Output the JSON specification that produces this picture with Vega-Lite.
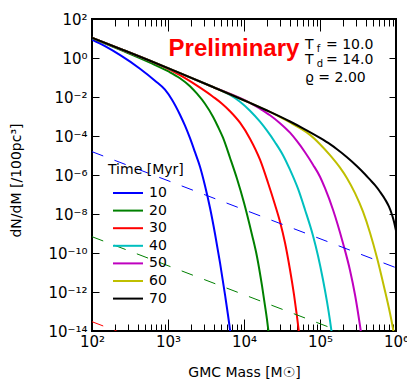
{
  "$schema": "https://vega.github.io/schema/vega-lite/v6.json",
  "width": 304,
  "height": 312,
  "autosize": {"type": "none"},
  "padding": {"left": 92, "top": 19, "right": 11, "bottom": 49},
  "background": "white",
  "config": {
    "view": {"stroke": "black", "strokeWidth": 2},
    "font": "DejaVu Sans",
    "axis": {
      "grid": false, "domain": false, "tickColor": "black", "tickWidth": 1,
      "labelColor": "black", "titleColor": "black", "labelFont": "DejaVu Sans", "titleFont": "DejaVu Sans",
      "labelFontSize": 15, "titleFontSize": 14, "titleFontWeight": "normal",
      "labelFlush": false, "labelOverlap": false
    }
  },
  "datasets": {
    "curves": [
      {"Time": 10, "M": 100, "Y": 8.68}, {"Time": 10, "M": 148.3, "Y": 4.03}, {"Time": 10, "M": 240.8, "Y": 1.312}, {"Time": 10, "M": 428.1, "Y": 0.2827}, {"Time": 10, "M": 674.5, "Y": 0.0685}, {"Time": 10, "M": 912.9, "Y": 0.02368}, {"Time": 10, "M": 1129, "Y": 7.27e-3}, {"Time": 10, "M": 1438, "Y": 1.237e-3}, {"Time": 10, "M": 1674, "Y": 3.38e-4}, {"Time": 10, "M": 1948, "Y": 7.71e-5}, {"Time": 10, "M": 2266, "Y": 1.476e-5}, {"Time": 10, "M": 2637, "Y": 2.67e-6}, {"Time": 10, "M": 3068, "Y": 2.83e-7}, {"Time": 10, "M": 3569, "Y": 2.10e-8}, {"Time": 10, "M": 4153, "Y": 9.77e-10}, {"Time": 10, "M": 4832, "Y": 3.18e-11}, {"Time": 10, "M": 5623, "Y": 7.27e-13}, {"Time": 10, "M": 6544, "Y": 1.17e-14}, {"Time": 10, "M": 6953, "Y": 1.76e-15},
      {"Time": 20, "M": 100, "Y": 10.36}, {"Time": 20, "M": 240.8, "Y": 2.512}, {"Time": 20, "M": 579.7, "Y": 0.574}, {"Time": 20, "M": 1000, "Y": 0.2104}, {"Time": 20, "M": 1438, "Y": 0.0921}, {"Time": 20, "M": 1948, "Y": 0.0358}, {"Time": 20, "M": 2408, "Y": 0.01476}, {"Time": 20, "M": 3068, "Y": 4.53e-3}, {"Time": 20, "M": 3909, "Y": 9.77e-4}, {"Time": 20, "M": 4549, "Y": 3.00e-4}, {"Time": 20, "M": 5292, "Y": 8.18e-5}, {"Time": 20, "M": 6544, "Y": 7.71e-6}, {"Time": 20, "M": 8091, "Y": 6.46e-7}, {"Time": 20, "M": 10000, "Y": 3.80e-8}, {"Time": 20, "M": 12740, "Y": 8.68e-10}, {"Time": 20, "M": 14830, "Y": 6.46e-11}, {"Time": 20, "M": 17250, "Y": 2.10e-12}, {"Time": 20, "M": 18890, "Y": 1.98e-13}, {"Time": 20, "M": 20080, "Y": 3.80e-14}, {"Time": 20, "M": 21330, "Y": 5.74e-15}, {"Time": 20, "M": 22660, "Y": 7.71e-16},
      {"Time": 30, "M": 100, "Y": 10.99}, {"Time": 30, "M": 240.8, "Y": 2.826}, {"Time": 30, "M": 579.7, "Y": 0.7185}, {"Time": 30, "M": 912.9, "Y": 0.3296}, {"Time": 30, "M": 1438, "Y": 0.1312}, {"Time": 30, "M": 2408, "Y": 0.0380}, {"Time": 30, "M": 3909, "Y": 0.01036}, {"Time": 30, "M": 5139, "Y": 4.53e-3}, {"Time": 30, "M": 6544, "Y": 1.87e-3}, {"Time": 30, "M": 8859, "Y": 4.81e-4}, {"Time": 30, "M": 11990, "Y": 7.27e-5}, {"Time": 30, "M": 16240, "Y": 6.09e-6}, {"Time": 30, "M": 20690, "Y": 4.03e-7}, {"Time": 30, "M": 25580, "Y": 3.00e-8}, {"Time": 30, "M": 29770, "Y": 4.03e-9}, {"Time": 30, "M": 34640, "Y": 3.38e-10}, {"Time": 30, "M": 40300, "Y": 1.39e-11}, {"Time": 30, "M": 45490, "Y": 7.27e-13}, {"Time": 30, "M": 49820, "Y": 5.41e-14}, {"Time": 30, "M": 52920, "Y": 8.18e-15}, {"Time": 30, "M": 56230, "Y": 1.10e-15},
      {"Time": 40, "M": 100, "Y": 10.99}, {"Time": 40, "M": 240.8, "Y": 2.826}, {"Time": 40, "M": 579.7, "Y": 0.7185}, {"Time": 40, "M": 1438, "Y": 0.1681}, {"Time": 40, "M": 3909, "Y": 0.03257}, {"Time": 40, "M": 5139, "Y": 0.02055}, {"Time": 40, "M": 6544, "Y": 0.01281}, {"Time": 40, "M": 8859, "Y": 5.74e-3}, {"Time": 40, "M": 11990, "Y": 1.98e-3}, {"Time": 40, "M": 16240, "Y": 5.41e-4}, {"Time": 40, "M": 20080, "Y": 1.87e-4}, {"Time": 40, "M": 25580, "Y": 4.81e-5}, {"Time": 40, "M": 32600, "Y": 1.04e-5}, {"Time": 40, "M": 40300, "Y": 1.87e-6}, {"Time": 40, "M": 51340, "Y": 1.98e-7}, {"Time": 40, "M": 63480, "Y": 1.66e-8}, {"Time": 40, "M": 80910, "Y": 7.71e-10}, {"Time": 40, "M": 94120, "Y": 7.27e-11}, {"Time": 40, "M": 109500, "Y": 4.27e-12}, {"Time": 40, "M": 123600, "Y": 3.18e-13}, {"Time": 40, "M": 135400, "Y": 3.38e-14}, {"Time": 40, "M": 143800, "Y": 6.46e-15}, {"Time": 40, "M": 152800, "Y": 1.10e-15},
      {"Time": 50, "M": 100, "Y": 10.99}, {"Time": 50, "M": 240.8, "Y": 2.826}, {"Time": 50, "M": 579.7, "Y": 0.7185}, {"Time": 50, "M": 1438, "Y": 0.1681}, {"Time": 50, "M": 3909, "Y": 0.03257}, {"Time": 50, "M": 11990, "Y": 4.98e-3}, {"Time": 50, "M": 16240, "Y": 2.51e-3}, {"Time": 50, "M": 21990, "Y": 1.166e-3}, {"Time": 50, "M": 29770, "Y": 4.53e-4}, {"Time": 50, "M": 40300, "Y": 1.476e-4}, {"Time": 50, "M": 49820, "Y": 5.41e-5}, {"Time": 50, "M": 63480, "Y": 1.476e-5}, {"Time": 50, "M": 80910, "Y": 3.38e-6}, {"Time": 50, "M": 100000, "Y": 8.18e-7}, {"Time": 50, "M": 116400, "Y": 2.10e-7}, {"Time": 50, "M": 148300, "Y": 1.66e-8}, {"Time": 50, "M": 200800, "Y": 3.18e-10}, {"Time": 50, "M": 248100, "Y": 1.31e-11}, {"Time": 50, "M": 288800, "Y": 7.27e-13}, {"Time": 50, "M": 336000, "Y": 1.87e-14}, {"Time": 50, "M": 357000, "Y": 3.58e-15},
      {"Time": 60, "M": 100, "Y": 10.99}, {"Time": 60, "M": 240.8, "Y": 2.826}, {"Time": 60, "M": 579.7, "Y": 0.7185}, {"Time": 60, "M": 1438, "Y": 0.1681}, {"Time": 60, "M": 3909, "Y": 0.03257}, {"Time": 60, "M": 11990, "Y": 4.98e-3}, {"Time": 60, "M": 21990, "Y": 1.721e-3}, {"Time": 60, "M": 32600, "Y": 7.90e-4}, {"Time": 60, "M": 40300, "Y": 4.98e-4}, {"Time": 60, "M": 54560, "Y": 2.51e-4}, {"Time": 60, "M": 73860, "Y": 1.14e-4}, {"Time": 60, "M": 100000, "Y": 3.80e-5}, {"Time": 60, "M": 135400, "Y": 1.04e-5}, {"Time": 60, "M": 183400, "Y": 2.37e-6}, {"Time": 60, "M": 226600, "Y": 6.85e-7}, {"Time": 60, "M": 288800, "Y": 1.17e-7}, {"Time": 60, "M": 368000, "Y": 1.31e-8}, {"Time": 60, "M": 454900, "Y": 1.10e-9}, {"Time": 60, "M": 562300, "Y": 5.74e-11}, {"Time": 60, "M": 695300, "Y": 1.87e-12}, {"Time": 60, "M": 833900, "Y": 8.18e-14}, {"Time": 60, "M": 885900, "Y": 2.51e-14}, {"Time": 60, "M": 941200, "Y": 6.85e-15}, {"Time": 60, "M": 1000000, "Y": 1.76e-15},
      {"Time": 70, "M": 100, "Y": 10.99}, {"Time": 70, "M": 240.8, "Y": 2.826}, {"Time": 70, "M": 579.7, "Y": 0.7185}, {"Time": 70, "M": 1438, "Y": 0.1681}, {"Time": 70, "M": 3909, "Y": 0.03257}, {"Time": 70, "M": 11990, "Y": 4.98e-3}, {"Time": 70, "M": 21990, "Y": 1.721e-3}, {"Time": 70, "M": 40300, "Y": 5.54e-4}, {"Time": 70, "M": 59750, "Y": 2.48e-4}, {"Time": 70, "M": 100000, "Y": 7.99e-5}, {"Time": 70, "M": 135400, "Y": 3.80e-5}, {"Time": 70, "M": 167400, "Y": 2.10e-5}, {"Time": 70, "M": 226600, "Y": 8.18e-6}, {"Time": 70, "M": 306800, "Y": 2.83e-6}, {"Time": 70, "M": 390900, "Y": 1.10e-6}, {"Time": 70, "M": 454900, "Y": 5.74e-7}, {"Time": 70, "M": 529200, "Y": 3.00e-7}, {"Time": 70, "M": 615800, "Y": 1.39e-7}, {"Time": 70, "M": 716700, "Y": 5.74e-8}, {"Time": 70, "M": 808900, "Y": 2.37e-8}, {"Time": 70, "M": 885900, "Y": 9.21e-9}, {"Time": 70, "M": 941200, "Y": 4.03e-9}, {"Time": 70, "M": 1000000, "Y": 1.39e-9}
    ],
    "dashed": [
      {"Time": 10, "M": 100, "Y": 1.57e-5}, {"Time": 10, "M": 1000000, "Y": 1.76e-11},
      {"Time": 20, "M": 100, "Y": 6.85e-10}, {"Time": 20, "M": 1000000, "Y": 7.7e-16},
      {"Time": 30, "M": 100, "Y": 3.0e-14}, {"Time": 30, "M": 1000000, "Y": 3.37e-20}
    ],
    "ann": [
      {"txt": "T", "M": 63500, "Y": 2.9},
      {"txt": "= 10.0", "M": 120000, "Y": 2.9},
      {"txt": "T", "M": 63500, "Y": 0.492},
      {"txt": "= 14.0", "M": 120000, "Y": 0.492},
      {"txt": "ϱ = 2.00", "M": 63500, "Y": 0.0561}
    ],
    "sub": [
      {"txt": "f", "M": 90600, "Y": 2.9},
      {"txt": "d", "M": 90600, "Y": 0.492}
    ],
    "prelim": [
      {"txt": "Preliminary", "M": 7380, "Y": 1.21}
    ]
  },
  "layer": [
    {
      "data": {"name": "curves"},
      "mark": {"type": "line", "strokeWidth": 2, "clip": true, "interpolate": "monotone"},
      "encoding": {
        "x": {"field": "M", "type": "quantitative",
          "scale": {"type": "log", "domain": [100, 1000000], "nice": false},
          "axis": {"orient": "bottom", "values": [100, 1000, 10000, 100000, 1000000], "tickSize": -12, "labelPadding": 27, "labelBaseline": "alphabetic",
            "labelExpr": "'10' + replace(replace(replace(replace(replace(toString(round(log(datum.value)/LN10)), '2', '²'), '3', '³'), '4', '⁴'), '5', '⁵'), '6', '⁶')",
            "title": "GMC Mass [M☉]", "titleX": 152, "titleY": 45, "titleBaseline": "alphabetic", "titleAlign": "center"}},
        "y": {"field": "Y", "type": "quantitative",
          "scale": {"type": "log", "domain": [1e-14, 100], "nice": false},
          "axis": {"orient": "left", "values": [1e-14, 1e-12, 1e-10, 1e-8, 1e-6, 1e-4, 1e-2, 1, 100], "tickSize": -7, "labelPadding": 12, "labelBaseline": "middle",
            "labelExpr": "'10' + replace(replace(replace(replace(replace(replace(replace(toString(round(log(datum.value)/LN10)), '-', '⁻'), '0', '⁰'), '1', '¹'), '2', '²'), '4', '⁴'), '6', '⁶'), '8', '⁸')",
            "title": "dN/dM [/100pc³]", "titleX": -76, "titleY": 161, "titleAngle": -90, "titleAlign": "center", "titleBaseline": "middle"}},
        "color": {"field": "Time", "type": "ordinal",
          "scale": {"domain": [10, 20, 30, 40, 50, 60, 70], "range": ["#0000ff", "#008000", "#ff0000", "#00bfbf", "#bf00bf", "#bfbf00", "#000000"]},
          "legend": {"orient": "none", "legendX": 16, "legendY": 144, "title": "Time [Myr]", "titleFont": "DejaVu Sans", "titleFontSize": 14, "titleFontWeight": "normal", "titleColor": "black", "titlePadding": 7,
            "labelFont": "DejaVu Sans", "labelFontSize": 14, "labelColor": "black",
            "symbolType": "M-1.875,0H1.875", "symbolSize": 256, "symbolStrokeWidth": 2, "symbolOffset": 11, "labelOffset": 12, "rowPadding": 1.6, "padding": 0}}
      }
    },
    {
      "data": {"name": "dashed"},
      "mark": {"type": "line", "strokeWidth": 1, "strokeDash": [12, 12], "clip": true},
      "encoding": {
        "x": {"field": "M", "type": "quantitative",
          "scale": {"type": "log", "domain": [100, 1000000], "nice": false},
          "axis": {"orient": "bottom", "values": [200, 300, 400, 500, 600, 700, 800, 900, 2000, 3000, 4000, 5000, 6000, 7000, 8000, 9000, 20000, 30000, 40000, 50000, 60000, 70000, 80000, 90000, 200000, 300000, 400000, 500000, 600000, 700000, 800000, 900000], "tickSize": -7, "labels": false, "title": null}},
        "y": {"field": "Y", "type": "quantitative",
          "scale": {"type": "log", "domain": [1e-14, 100], "nice": false},
          "axis": {"orient": "right", "values": [1e-14, 1e-12, 1e-10, 1e-8, 1e-6, 1e-4, 1e-2, 1, 100], "tickSize": -7, "labels": false, "title": null}},
        "color": {"field": "Time", "type": "ordinal",
          "scale": {"domain": [10, 20, 30], "range": ["#0000ff", "#008000", "#ff0000"]}, "legend": null}
      }
    },
    {
      "data": {"name": "ann"},
      "mark": {"type": "text", "font": "DejaVu Sans", "fontSize": 14, "align": "left", "baseline": "alphabetic", "color": "black"},
      "encoding": {
        "x": {"field": "M", "type": "quantitative",
          "scale": {"type": "log", "domain": [100, 1000000], "nice": false},
          "axis": {"orient": "top", "values": [100, 1000, 10000, 100000, 1000000], "tickSize": -12, "labels": false, "title": null}},
        "y": {"field": "Y", "type": "quantitative",
          "scale": {"type": "log", "domain": [1e-14, 100], "nice": false}, "axis": null},
        "text": {"field": "txt"}
      }
    },
    {
      "data": {"name": "sub"},
      "mark": {"type": "text", "font": "DejaVu Sans", "fontSize": 10, "align": "left", "baseline": "alphabetic", "dy": 3, "color": "black"},
      "encoding": {
        "x": {"field": "M", "type": "quantitative",
          "scale": {"type": "log", "domain": [100, 1000000], "nice": false},
          "axis": {"orient": "top", "values": [200, 300, 400, 500, 600, 700, 800, 900, 2000, 3000, 4000, 5000, 6000, 7000, 8000, 9000, 20000, 30000, 40000, 50000, 60000, 70000, 80000, 90000, 200000, 300000, 400000, 500000, 600000, 700000, 800000, 900000], "tickSize": -7, "labels": false, "title": null}},
        "y": {"field": "Y", "type": "quantitative",
          "scale": {"type": "log", "domain": [1e-14, 100], "nice": false}, "axis": null},
        "text": {"field": "txt"}
      }
    },
    {
      "data": {"name": "prelim"},
      "mark": {"type": "text", "font": "Liberation Sans", "fontSize": 24, "fontWeight": "bold", "align": "center", "baseline": "alphabetic", "color": "#ff0000"},
      "encoding": {
        "x": {"field": "M", "type": "quantitative",
          "scale": {"type": "log", "domain": [100, 1000000], "nice": false}, "axis": null},
        "y": {"field": "Y", "type": "quantitative",
          "scale": {"type": "log", "domain": [1e-14, 100], "nice": false}, "axis": null},
        "text": {"field": "txt"}
      }
    }
  ],
  "resolve": {"scale": {"color": "independent"}, "axis": {"x": "independent", "y": "independent"}}
}
